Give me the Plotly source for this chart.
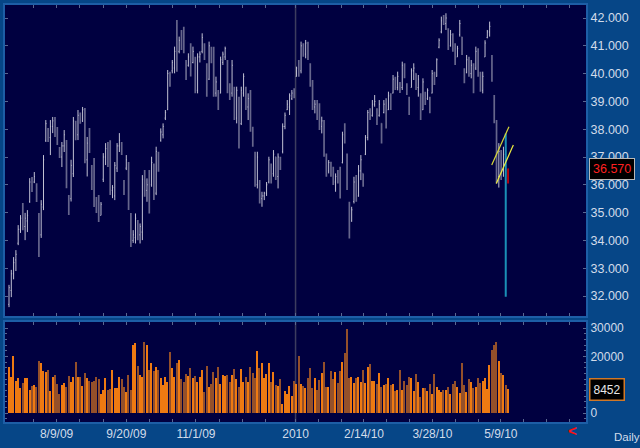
import plotly.graph_objects as go

# ---------------- data ----------------
high = [
    32.40, 32.94, 33.40, 33.65, 34.55, 34.91, 35.35, 34.99, 35.09, 36.24,
    36.28, 36.46, 36.06, 34.99, 35.45, 37.07, 38.33, 38.04, 38.33, 38.44,
    38.44, 38.08, 37.36, 37.54, 37.97, 37.61, 35.63, 36.90, 38.44, 38.30,
    38.69, 38.60, 38.80, 38.76, 37.72, 38.04, 36.71, 36.96, 35.56, 35.63,
    35.38, 37.14, 37.50, 37.54, 37.60, 35.99, 36.82, 37.50, 37.86, 37.54,
    36.17, 37.07, 36.82, 34.99, 34.37, 34.97, 34.73, 34.61, 36.35, 36.53,
    36.23, 36.53, 37.01, 36.77, 37.37, 37.19, 38.03, 38.21, 38.69, 40.13,
    40.07, 40.49, 40.97, 41.93, 41.33, 41.57, 41.69, 40.49, 40.73, 41.09,
    40.97, 40.61, 40.73, 40.80, 41.45, 41.09, 40.37, 41.15, 40.97, 40.97,
    39.89, 39.41, 40.61, 40.79, 40.97, 40.49, 39.65, 40.49, 39.53, 39.53,
    39.17, 39.53, 40.01, 39.53, 39.29, 39.41, 38.09, 37.19, 37.19, 36.17,
    35.75, 35.75, 36.10, 37.01, 36.77, 37.25, 37.01, 37.13, 37.01, 38.21,
    38.60, 39.05, 39.29, 39.41, 39.47, 40.25, 40.49, 41.15, 41.09, 41.21,
    41.15, 40.37, 39.77, 39.05, 39.05, 38.93, 38.45, 38.33, 37.13, 36.89,
    36.83, 36.65, 36.41, 36.53, 36.65, 37.91, 38.21, 37.13, 35.39, 35.21,
    36.29, 36.35, 36.71, 37.07, 36.41, 37.79, 38.69, 38.75, 39.05, 39.23,
    38.75, 39.05, 38.21, 39.05, 39.11, 39.35, 39.29, 39.95, 39.89, 40.07,
    39.70, 40.43, 40.37, 39.65, 39.17, 40.19, 40.37, 40.01, 39.95, 39.29,
    39.83, 39.35, 39.47, 39.17, 40.13, 40.07, 40.55, 41.27, 42.05, 42.11,
    42.17, 41.63, 41.57, 41.45, 41.09, 41.00, 41.93, 41.33, 40.19, 40.67,
    40.61, 40.49, 40.37, 40.97, 40.91, 40.07, 40.07, 41.20, 41.57, 41.87,
    40.67, 39.23, 38.33, 37.50, 37.25, 37.37, 37.85, 36.59,
]
low = [
    31.60, 31.96, 32.60, 32.90, 33.83, 34.27, 34.37, 34.01, 34.30, 35.35,
    35.74, 36.06, 35.38, 33.40, 34.09, 35.09, 37.54, 37.54, 37.07, 37.86,
    37.72, 37.43, 36.96, 36.64, 37.18, 35.88, 34.91, 35.40, 36.28, 37.60,
    37.61, 38.20, 38.26, 36.78, 36.30, 37.14, 35.81, 35.20, 34.99, 34.66,
    34.90, 36.10, 36.71, 36.64, 35.63, 35.52, 35.45, 36.46, 37.18, 37.07,
    35.63, 36.53, 35.09, 33.76, 33.91, 33.89, 34.01, 33.89, 34.01, 35.57,
    35.39, 34.97, 35.93, 35.45, 35.63, 36.47, 37.55, 37.67, 38.33, 38.69,
    39.53, 40.01, 40.01, 40.07, 40.73, 40.85, 40.73, 39.77, 40.25, 39.90,
    40.37, 39.29, 39.29, 40.40, 40.73, 40.49, 39.17, 39.77, 40.37, 39.17,
    39.17, 38.69, 39.29, 40.31, 40.49, 39.29, 39.05, 39.17, 38.33, 38.21,
    37.31, 38.15, 39.17, 38.69, 38.33, 37.91, 37.37, 35.93, 35.87, 35.33,
    35.21, 35.45, 35.60, 36.05, 36.05, 36.29, 36.17, 35.87, 36.53, 37.13,
    38.00, 38.69, 38.51, 39.05, 39.11, 39.89, 39.89, 40.01, 40.61, 40.55,
    40.49, 39.53, 38.69, 38.57, 38.33, 37.97, 37.85, 37.01, 36.29, 36.41,
    36.29, 35.99, 35.75, 36.05, 35.51, 36.77, 37.49, 35.81, 34.07, 34.67,
    35.33, 35.39, 35.57, 36.17, 35.93, 37.07, 37.60, 38.33, 38.45, 38.81,
    38.15, 38.45, 37.49, 38.57, 38.03, 38.69, 38.69, 39.29, 39.41, 39.40,
    39.30, 39.41, 39.83, 39.23, 38.51, 39.50, 39.77, 39.41, 39.17, 38.33,
    38.69, 38.87, 39.05, 38.57, 39.29, 39.59, 39.89, 40.91, 41.45, 41.75,
    41.57, 40.85, 40.97, 40.79, 40.31, 40.60, 41.33, 40.67, 39.65, 40.01,
    39.89, 39.83, 39.29, 40.13, 39.89, 39.35, 39.29, 40.60, 41.27, 41.33,
    39.71, 38.21, 36.05, 35.90, 36.17, 36.29, 31.97, 36.05,
]
open_ = [
    31.70, 32.20, 32.80, 33.30, 33.90, 34.40, 34.90, 34.50, 34.70, 35.40,
    36.10, 36.10, 36.00, 34.90, 34.20, 35.20, 37.60, 37.90, 37.70, 38.10,
    38.30, 37.90, 37.30, 37.00, 37.40, 37.50, 35.50, 35.50, 36.40, 38.20,
    37.80, 38.40, 38.30, 38.60, 36.90, 37.50, 36.60, 36.00, 35.40, 35.20,
    34.90, 36.20, 37.00, 37.30, 37.00, 35.80, 35.60, 36.60, 37.40, 37.50,
    36.10, 36.60, 36.70, 34.90, 34.00, 34.10, 34.70, 34.20, 34.30, 36.20,
    35.80, 36.00, 36.00, 36.70, 35.70, 37.10, 37.60, 37.80, 38.40, 38.70,
    39.90, 40.10, 40.20, 40.80, 40.80, 41.20, 41.00, 40.40, 40.30, 40.60,
    40.40, 40.50, 39.40, 40.60, 40.80, 41.00, 40.30, 39.80, 40.90, 40.50,
    39.30, 39.30, 39.30, 40.40, 40.60, 40.40, 39.50, 39.30, 39.50, 38.40,
    39.00, 38.20, 39.30, 39.50, 38.80, 39.20, 38.00, 37.10, 36.00, 36.10,
    35.50, 35.60, 35.70, 36.10, 36.70, 36.40, 37.00, 36.30, 36.90, 37.20,
    38.10, 38.70, 38.80, 39.10, 39.30, 39.90, 40.20, 40.10, 41.00, 40.70,
    41.00, 40.30, 39.70, 38.80, 39.00, 38.50, 38.10, 38.30, 37.10, 36.50,
    36.80, 36.40, 36.10, 36.30, 36.20, 36.80, 37.80, 37.10, 35.30, 34.70,
    35.40, 36.10, 35.60, 36.50, 36.40, 37.10, 37.70, 38.60, 38.50, 38.90,
    38.70, 38.50, 38.20, 38.60, 38.90, 38.70, 39.20, 39.30, 39.80, 39.50,
    39.60, 39.50, 40.30, 39.60, 39.10, 39.50, 40.10, 40.00, 39.50, 39.20,
    38.70, 39.30, 39.10, 39.10, 39.30, 40.00, 39.90, 40.95, 41.50, 41.90,
    41.80, 41.60, 41.00, 41.40, 40.90, 40.60, 41.40, 41.30, 40.10, 40.05,
    40.50, 40.00, 40.30, 40.20, 40.80, 40.00, 39.40, 40.60, 41.30, 41.50,
    40.60, 39.20, 38.30, 36.30, 37.20, 36.50, 37.10, 36.50,
]
close = [
    32.30, 32.80, 33.20, 33.50, 34.40, 34.80, 34.50, 34.80, 34.90, 36.10,
    35.90, 36.30, 35.50, 33.60, 35.30, 36.90, 38.20, 37.70, 38.10, 38.30,
    37.90, 37.50, 37.10, 37.40, 37.80, 36.00, 35.20, 36.70, 38.30, 37.90,
    38.50, 38.30, 38.70, 37.00, 37.50, 37.30, 36.00, 35.40, 35.20, 34.90,
    35.30, 37.00, 37.30, 36.90, 35.80, 35.90, 36.70, 37.40, 37.60, 37.20,
    35.80, 36.90, 35.20, 33.90, 34.20, 34.80, 34.20, 34.50, 36.20, 35.80,
    36.00, 35.20, 36.80, 35.70, 37.20, 36.70, 37.90, 38.10, 38.60, 40.00,
    39.70, 40.40, 40.80, 40.30, 41.20, 41.00, 40.90, 39.90, 40.60, 40.00,
    40.80, 39.40, 40.60, 40.70, 41.30, 40.60, 39.30, 41.00, 40.50, 39.30,
    39.70, 38.80, 40.50, 40.70, 40.90, 39.50, 39.30, 40.30, 38.50, 39.40,
    37.50, 39.40, 39.90, 38.80, 39.10, 38.00, 37.50, 36.10, 37.00, 35.50,
    35.60, 35.70, 36.00, 36.90, 36.30, 37.10, 36.40, 37.00, 36.70, 38.10,
    38.50, 38.90, 39.20, 39.30, 39.20, 40.20, 40.00, 41.00, 40.80, 41.10,
    40.60, 39.70, 38.80, 38.90, 38.40, 38.10, 38.30, 37.10, 36.50, 36.80,
    36.40, 36.10, 36.30, 36.20, 35.60, 37.80, 37.60, 35.90, 34.60, 35.10,
    36.10, 35.60, 36.50, 36.90, 36.10, 37.70, 38.60, 38.40, 38.90, 39.00,
    38.30, 38.90, 37.60, 38.90, 38.20, 39.20, 38.80, 39.80, 39.50, 39.90,
    39.40, 40.30, 39.90, 39.30, 38.60, 40.10, 40.20, 39.50, 39.80, 38.50,
    39.70, 39.00, 39.40, 38.70, 40.00, 39.70, 40.50, 41.20, 41.90, 41.80,
    42.00, 41.00, 41.40, 40.90, 40.40, 40.90, 41.80, 40.80, 39.80, 40.50,
    40.00, 40.30, 39.40, 40.80, 40.00, 39.50, 39.90, 41.10, 41.50, 41.70,
    39.80, 38.40, 36.40, 37.20, 36.50, 37.10, 36.80, 36.57,
]
volume = [
    16300, 12800, 20100, 11300, 12200, 8900, 10700, 12400, 12300, 8100,
    9600, 9900, 9300, 18400, 17600, 14900, 14600, 15200, 7700, 12800,
    13400, 10400, 6800, 9900, 10700, 9300, 13000, 11000, 12800, 18200,
    12800, 12800, 9500, 14300, 12400, 11300, 11000, 11400, 12800, 11900,
    6800, 8100, 12200, 8100, 8600, 15200, 9000, 8800, 12800, 11900,
    9300, 7400, 13400, 8100, 24200, 24600, 16700, 13400, 12800, 25200,
    24000, 15200, 17800, 14900, 16300, 15200, 12200, 9900, 12800, 11000,
    21700, 15800, 12800, 17600, 18800, 11900, 11000, 13800, 13000, 15800,
    12200, 13000, 11000, 12800, 15200, 7500, 16700, 9300, 10400, 14600,
    12200, 16300, 10200, 13400, 13000, 13400, 11000, 13400, 15500, 12000,
    9300, 15600, 11000, 12800, 11000, 16300, 14000, 12500, 22000, 15800,
    17800, 12200, 13800, 17800, 11000, 14600, 9900, 9500, 11900, 3300,
    7900, 6600, 9500, 6000, 11400, 10400, 20100, 10200, 9500, 9000,
    12200, 15800, 8700, 12500, 8100,
    11700, 14000, 18200, 9300, 9300, 14900, 11900, 14600, 10700, 14900,
    18200, 21100, 29600, 12400, 12800, 10700, 12200, 12800, 10900, 15200,
    10700, 16400, 17200, 11400, 11300, 10200, 14300, 9300, 9900, 10200,
    12400, 9900, 10200, 7900, 8100, 15200, 8100, 11400, 9900, 12800,
    12400, 7700, 13800, 11000, 5700, 8900, 9000, 7700, 10200, 6800,
    13700, 9300, 8100, 7500, 8300, 8100, 9300, 6800, 10400, 11400,
    9100, 7000, 17600, 9900, 7500, 11900, 11000, 9000, 9300, 12400,
    10700, 11400, 12500, 8400, 16900, 22300, 24200, 25200, 18400, 14000,
    13300, 10000, 8452,
]
assert len(high) == len(low) == len(open_) == len(close) == len(volume), (
    len(high), len(low), len(open_), len(close), len(volume))

tick_text_major = ["8/9/09", "9/20/09", "11/1/09", "2010", "2/14/10", "3/28/10", "5/9/10"]
year_break_index = 124.6          # first session of 2010
channel_upper_x = [209.9, 217.4]  # drawn trend channel
channel_upper_y = [36.71, 38.09]
channel_lower_x = [211.9, 219.3]
channel_lower_y = [36.05, 37.43]
last_price = 36.570
last_volume = 8452

# ---------------- styling ----------------
BLUE = "#064687"
NAVY = "#000040"
FRAME = "#1d5ea6"
TXT = "#d2dcea"
TICK = "#5a6890"
UP_BAR = "#c0c0d2"
DN_BAR = "#66668c"
UP_VOL = "#ee7a12"
DN_VOL = "#94502a"

x = list(range(len(close)))
n = len(close)

# tick positions: every two weeks; labels on every third
pre = [20.7 + 10.1 * i for i in range(-1, 10)]
post = [year_break_index + 9.92 * j for j in range(0, 13)]
tick_pos = pre + post
tick_txt = []
lab_pre = {0: 0, 3: 1, 6: 2}
lab_post = {0: 3, 3: 4, 6: 5, 9: 6}
for i in range(-1, 10):
    tick_txt.append(tick_text_major[lab_pre[i]] if i in lab_pre else "")
for j in range(0, 13):
    tick_txt.append(tick_text_major[lab_post[j]] if j in lab_post else "")

fig = go.Figure()

# volume first so it sits underneath everything else
is_up = [c >= o for o, c in zip(open_, close)]
vol_colors = [UP_VOL if u else DN_VOL for u in is_up]
fig.add_trace(go.Bar(x=x, y=volume, marker=dict(color=vol_colors, line=dict(width=0)),
                     width=0.6, xaxis="x2", yaxis="y2", hoverinfo="skip"))

m = n - 2
fig.add_trace(go.Ohlc(
    x=x[:m], open=open_[:m], high=high[:m], low=low[:m], close=close[:m],
    increasing=dict(line=dict(color=UP_BAR, width=1)),
    decreasing=dict(line=dict(color=DN_BAR, width=1.7)),
    tickwidth=0.3, xaxis="x", yaxis="y", hoverinfo="skip"))
fig.add_trace(go.Ohlc(
    x=x[m:m + 1], open=open_[m:m + 1], high=high[m:m + 1], low=low[m:m + 1], close=close[m:m + 1],
    increasing=dict(line=dict(color="#1a90b6", width=2)),
    decreasing=dict(line=dict(color="#1a90b6", width=2)),
    tickwidth=0.1, xaxis="x", yaxis="y", hoverinfo="skip"))
fig.add_trace(go.Ohlc(
    x=x[m + 1:], open=open_[m + 1:], high=high[m + 1:], low=low[m + 1:], close=close[m + 1:],
    increasing=dict(line=dict(color="#e00000", width=1.5)),
    decreasing=dict(line=dict(color="#e00000", width=1.5)),
    tickwidth=0.2, xaxis="x", yaxis="y", hoverinfo="skip"))

fig.add_trace(go.Scatter(x=channel_upper_x, y=channel_upper_y, mode="lines",
                         line=dict(color="#d8d838", width=1.2), xaxis="x", yaxis="y", hoverinfo="skip"))
fig.add_trace(go.Scatter(x=channel_lower_x, y=channel_lower_y, mode="lines",
                         line=dict(color="#f0f040", width=1.2), xaxis="x", yaxis="y", hoverinfo="skip"))

xr = [-1.74, 250.9]
axis_common = dict(showgrid=False, zeroline=False, showline=True, linecolor=FRAME,
                   linewidth=2, mirror="ticks", ticks="inside", ticklen=3, tickcolor=TICK,
                   automargin=False)

fig.update_layout(
    width=640, height=448,
    margin=dict(l=5, r=54, t=5, b=26, autoexpand=False),
    paper_bgcolor=BLUE, plot_bgcolor=NAVY,
    showlegend=False, hovermode=False,
    font=dict(family="Liberation Sans", size=12, color=TXT),
    bargap=0,
    xaxis=dict(domain=[0, 1], anchor="y", range=xr, tickmode="array", tickvals=tick_pos,
               showticklabels=False, rangeslider=dict(visible=False), **axis_common),
    xaxis2=dict(domain=[0, 1], anchor="y2", range=xr, matches="x", tickmode="array",
                tickvals=tick_pos, ticktext=tick_txt, tickfont=dict(size=12, color=TXT),
                rangeslider=dict(visible=False), **axis_common),
    yaxis=dict(domain=[106 / 417, 1], anchor="x", side="right", range=[31.281, 42.468],
               tick0=32, dtick=1, tickformat=".3f", tickfont=dict(size=12.5, color=TXT),
               **axis_common),
    yaxis2=dict(domain=[0, 100 / 417], anchor="x2", side="right", range=[-3180, 32160],
                tickmode="array", tickvals=[0, 20000, 30000], ticktext=["0", "20000", "30000"],
                tickfont=dict(size=12, color=TXT),
                minor=dict(dtick=2000, tick0=0, ticks="inside", ticklen=2, tickcolor=TICK),
                **axis_common),
)

fig.add_shape(type="line", xref="x", yref="y domain", x0=year_break_index, x1=year_break_index,
              y0=0, y1=1, line=dict(color="#3c3c5e", width=1.5), layer="below")
fig.add_shape(type="line", xref="x2", yref="y2 domain", x0=year_break_index, x1=year_break_index,
              y0=0, y1=1, line=dict(color="#3c3c5e", width=1.5), layer="below")

fig.add_annotation(xref="paper", yref="y", x=1, y=last_price, xanchor="left", xshift=3,
                   text=f"{last_price:.3f}", showarrow=False,
                   font=dict(color="#ff2020", size=12.5, family="Liberation Sans"),
                   bgcolor="#000000", bordercolor="#b8b8b8", borderwidth=1, borderpad=3)
fig.add_annotation(xref="paper", yref="y2", x=1, y=last_volume, xanchor="left", xshift=3,
                   text=f"{last_volume}", showarrow=False,
                   font=dict(color="#e8e8e8", size=12, family="Liberation Sans"),
                   bgcolor="#000000", bordercolor="#d07828", borderwidth=1.5, borderpad=3)
fig.add_annotation(xref="paper", yref="paper", x=1, y=0, xanchor="left", yanchor="middle",
                   xshift=26, yshift=-15, text="Daily", showarrow=False,
                   font=dict(color=TXT, size=11.5, family="Liberation Sans"))
fig.add_annotation(xref="paper", yref="paper", x=1, y=0, xanchor="center", yanchor="middle",
                   xshift=-14, yshift=-8, text="<b>&lt;</b>", showarrow=False,
                   font=dict(color="#ff1010", size=15, family="Liberation Sans"))

fig.write_html(
    "out.html",
    config={"displayModeBar": False},
    post_script="document.body.style.margin='0';document.body.style.background='" + BLUE + "';",
)
